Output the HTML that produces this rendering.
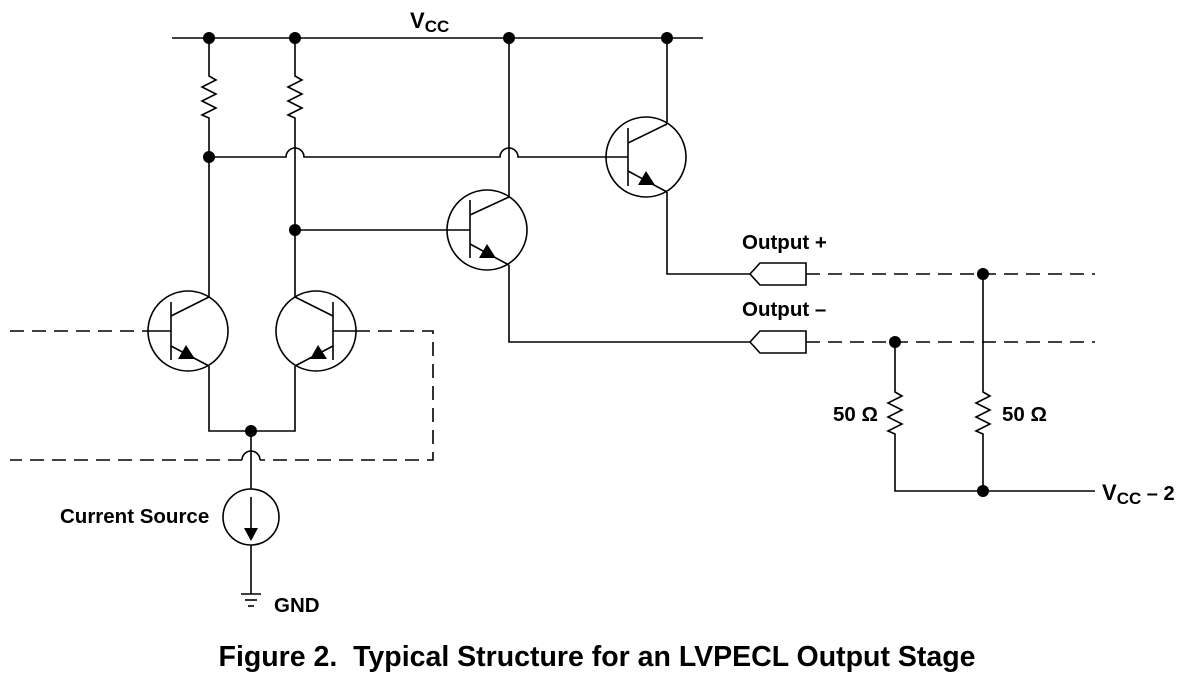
<!DOCTYPE html>
<html><head><meta charset="utf-8"><style>
html,body{margin:0;padding:0;background:#fff;}
svg{display:block;}
text{font-family:"Liberation Sans",Arial,sans-serif;font-weight:bold;fill:#000;}
</style></head><body>
<svg width="1179" height="677" viewBox="0 0 1179 677" xmlns="http://www.w3.org/2000/svg">
<g stroke="#000" stroke-width="1.6" fill="none">
<line x1="172" y1="38" x2="703" y2="38"/>
<path d="M209 38 V76 l7 4 l-14 7 l14 7 l-14 7 l14 7 l-14 7 l7 3 V297"/>
<path d="M295 38 V76 l7 4 l-14 7 l14 7 l-14 7 l14 7 l-14 7 l7 3 V297"/>
<path d="M209 157 H286 a9 9 0 0 1 18 0 H500 a9 9 0 0 1 18 0 H628"/>
<line x1="295" y1="230" x2="470" y2="230"/>
<line x1="509" y1="38" x2="509" y2="197"/>
<path d="M509 265 V342 H750"/>
<line x1="667" y1="38" x2="667" y2="124"/>
<path d="M667 192 V274 H750"/>
<circle cx="188" cy="331" r="40"/>
<line x1="171" y1="302" x2="171" y2="360"/>
<line x1="148" y1="331" x2="171" y2="331"/>
<line x1="171" y1="316" x2="209" y2="297"/>
<line x1="171" y1="346" x2="209" y2="366"/>
<circle cx="316" cy="331" r="40"/>
<line x1="333" y1="302" x2="333" y2="360"/>
<line x1="333" y1="331" x2="356" y2="331"/>
<line x1="333" y1="316" x2="295" y2="297"/>
<line x1="333" y1="346" x2="295" y2="366"/>
<circle cx="487" cy="230" r="40"/>
<line x1="470" y1="200" x2="470" y2="258"/>
<line x1="470" y1="215" x2="509" y2="197"/>
<line x1="470" y1="244" x2="509" y2="265"/>
<circle cx="646" cy="157" r="40"/>
<line x1="628" y1="128" x2="628" y2="186"/>
<line x1="628" y1="143" x2="667" y2="124"/>
<line x1="628" y1="171" x2="667" y2="192"/>
<path d="M209 366 V431 H295 V366"/>
<line x1="251" y1="431" x2="251" y2="489"/>
<circle cx="251" cy="517" r="28"/>
<line x1="251" y1="497" x2="251" y2="530"/>
<line x1="251" y1="545" x2="251" y2="594"/>
<line x1="241" y1="594" x2="261" y2="594"/>
<line x1="245" y1="600" x2="257" y2="600"/>
<line x1="248" y1="606" x2="254" y2="606"/>
<path d="M750 274 L760 263 H806 V285 H760 Z"/>
<path d="M750 342 L760 331 H806 V353 H760 Z"/>
<path d="M895 342 V392 l7 4 l-14 7 l14 7 l-14 7 l14 7 l-14 7 l7 3 V491 H1095"/>
<path d="M983 274 V392 l7 4 l-14 7 l14 7 l-14 7 l14 7 l-14 7 l7 3 V491"/>
</g>
<g stroke="#000" stroke-width="1.6" fill="none" stroke-dasharray="14,8">
<line x1="10" y1="331" x2="148" y2="331"/>
<path d="M356 331 H433 V460 H260"/>
<line x1="242" y1="460" x2="10" y2="460"/>
<line x1="806" y1="274" x2="1095" y2="274"/>
<line x1="806" y1="342" x2="1095" y2="342"/>
</g>
<path d="M242 460 a9 9 0 0 1 18 0" stroke="#000" stroke-width="1.6" fill="none"/>
<g fill="#000">
<circle cx="209" cy="38" r="6"/><circle cx="295" cy="38" r="6"/>
<circle cx="509" cy="38" r="6"/><circle cx="667" cy="38" r="6"/>
<circle cx="209" cy="157" r="6"/><circle cx="295" cy="230" r="6"/>
<circle cx="251" cy="431" r="6"/>
<circle cx="983" cy="274" r="6"/><circle cx="895" cy="342" r="6"/>
<circle cx="983" cy="491" r="6"/>
<polygon points="186,345 178,359 195,359"/>
<polygon points="318,345 310,359 327,359"/>
<polygon points="487,244 479,258 496,258"/>
<polygon points="646,171 638,185 655,185"/>
<polygon points="244,528 258,528 251,541"/>
</g>
<text x="410" y="28" font-size="22">V<tspan font-size="17" dy="4">CC</tspan></text>
<text x="742" y="249" font-size="20.5">Output +</text>
<text x="742" y="316" font-size="20.5">Output –</text>
<text x="833" y="421" font-size="20.5">50 Ω</text>
<text x="1002" y="421" font-size="20.5">50 Ω</text>
<text x="60" y="523" font-size="20.5">Current Source</text>
<text x="274" y="612" font-size="20.5">GND</text>
<text x="1102" y="500" font-size="22">V<tspan font-size="17" dy="4">CC</tspan><tspan dy="-4" font-size="20"> – 2</tspan></text>
<text x="597" y="666" font-size="28.5" text-anchor="middle">Figure 2.&#160; Typical Structure for an LVPECL Output Stage</text>
</svg>
</body></html>
